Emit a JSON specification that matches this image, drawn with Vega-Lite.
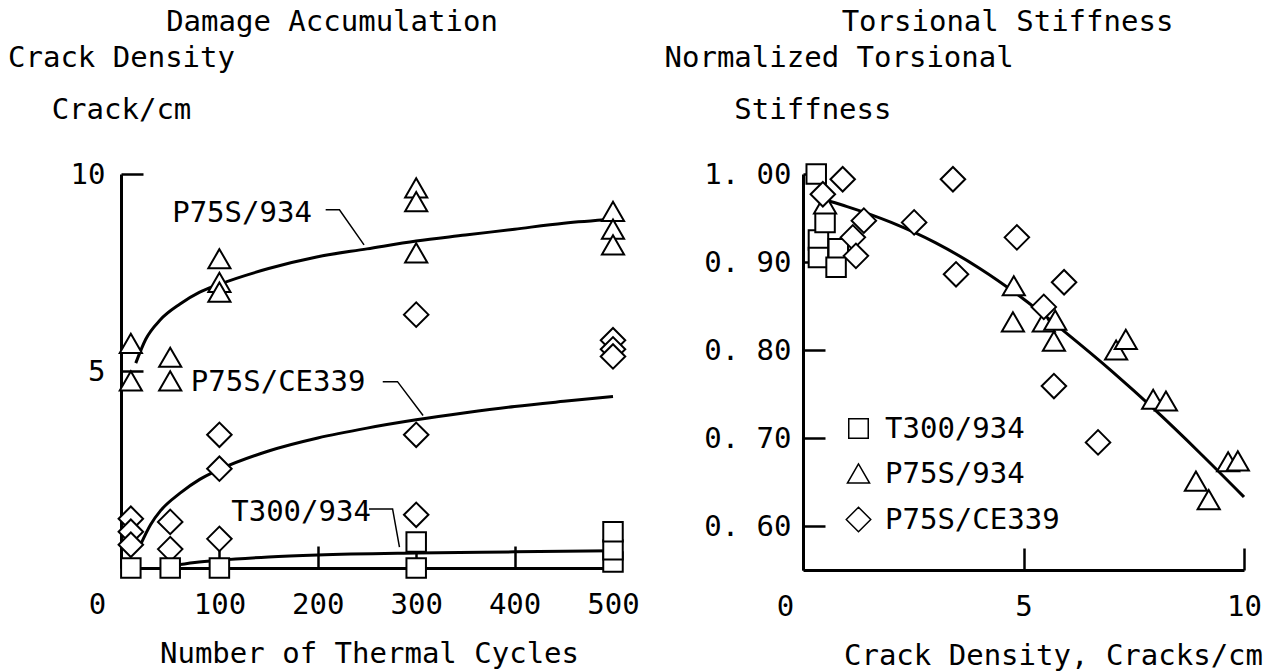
{
  "$schema": "https://vega.github.io/schema/vega-lite/v6.json",
  "background": "white",
  "padding": {"left": 7, "top": 8, "right": 5, "bottom": 5},
  "spacing": 24,
  "config": {
    "font": "DejaVu Sans Mono",
    "view": {"stroke": null},
    "axis": {
      "domainColor": "black", "domainWidth": 3, "tickColor": "black", "tickWidth": 2.5, "tickSize": -22,
      "labelFont": "DejaVu Sans Mono", "labelFontSize": 29, "labelColor": "black",
      "titleFont": "DejaVu Sans Mono", "titleFontSize": 29, "titleFontWeight": "normal", "titleColor": "black",
      "grid": false, "labelFlush": false, "labelBound": false, "labelOverlap": false, "labelLimit": 400, "titleLimit": 600
    },
    "title": {"font": "DejaVu Sans Mono", "fontSize": 29, "fontWeight": "normal", "color": "black", "anchor": "middle"}
  },
  "datasets": {
    "dmgPoints": [
      {"series": "P75S/934", "cycles": 10, "density": 5.7},
      {"series": "P75S/934", "cycles": 10, "density": 4.75},
      {"series": "P75S/934", "cycles": 50, "density": 5.35},
      {"series": "P75S/934", "cycles": 50, "density": 4.75},
      {"series": "P75S/934", "cycles": 100, "density": 7.85},
      {"series": "P75S/934", "cycles": 100, "density": 7.25},
      {"series": "P75S/934", "cycles": 100, "density": 7.0},
      {"series": "P75S/934", "cycles": 300, "density": 9.65},
      {"series": "P75S/934", "cycles": 300, "density": 9.3},
      {"series": "P75S/934", "cycles": 300, "density": 8.0},
      {"series": "P75S/934", "cycles": 500, "density": 9.05},
      {"series": "P75S/934", "cycles": 500, "density": 8.6},
      {"series": "P75S/934", "cycles": 500, "density": 8.2},
      {"series": "P75S/CE339", "cycles": 10, "density": 1.25},
      {"series": "P75S/CE339", "cycles": 10, "density": 0.92},
      {"series": "P75S/CE339", "cycles": 10, "density": 0.59},
      {"series": "P75S/CE339", "cycles": 50, "density": 1.17},
      {"series": "P75S/CE339", "cycles": 50, "density": 0.48},
      {"series": "P75S/CE339", "cycles": 100, "density": 3.38},
      {"series": "P75S/CE339", "cycles": 100, "density": 2.52},
      {"series": "P75S/CE339", "cycles": 100, "density": 0.74},
      {"series": "P75S/CE339", "cycles": 300, "density": 6.43},
      {"series": "P75S/CE339", "cycles": 300, "density": 3.38},
      {"series": "P75S/CE339", "cycles": 300, "density": 1.35},
      {"series": "P75S/CE339", "cycles": 500, "density": 5.78},
      {"series": "P75S/CE339", "cycles": 500, "density": 5.55},
      {"series": "P75S/CE339", "cycles": 500, "density": 5.37},
      {"series": "T300/934", "cycles": 10, "density": 0},
      {"series": "T300/934", "cycles": 50, "density": 0},
      {"series": "T300/934", "cycles": 100, "density": 0},
      {"series": "T300/934", "cycles": 300, "density": 0},
      {"series": "T300/934", "cycles": 300, "density": 0.66},
      {"series": "T300/934", "cycles": 500, "density": 0.15},
      {"series": "T300/934", "cycles": 500, "density": 0.46},
      {"series": "T300/934", "cycles": 500, "density": 0.92}
    ],
    "dmgCurves": [
      {"series": "P75S/934", "cycles": 15, "density": 5.2},
      {"series": "P75S/934", "cycles": 25, "density": 5.8},
      {"series": "P75S/934", "cycles": 40, "density": 6.3},
      {"series": "P75S/934", "cycles": 60, "density": 6.7},
      {"series": "P75S/934", "cycles": 80, "density": 7.0},
      {"series": "P75S/934", "cycles": 100, "density": 7.2},
      {"series": "P75S/934", "cycles": 150, "density": 7.6},
      {"series": "P75S/934", "cycles": 200, "density": 7.9},
      {"series": "P75S/934", "cycles": 250, "density": 8.1},
      {"series": "P75S/934", "cycles": 300, "density": 8.3},
      {"series": "P75S/934", "cycles": 350, "density": 8.45},
      {"series": "P75S/934", "cycles": 400, "density": 8.6},
      {"series": "P75S/934", "cycles": 450, "density": 8.75},
      {"series": "P75S/934", "cycles": 500, "density": 8.85},
      {"series": "P75S/CE339", "cycles": 20, "density": 0.6},
      {"series": "P75S/CE339", "cycles": 30, "density": 1.1},
      {"series": "P75S/CE339", "cycles": 40, "density": 1.45},
      {"series": "P75S/CE339", "cycles": 60, "density": 1.9},
      {"series": "P75S/CE339", "cycles": 80, "density": 2.25},
      {"series": "P75S/CE339", "cycles": 100, "density": 2.5},
      {"series": "P75S/CE339", "cycles": 150, "density": 2.97},
      {"series": "P75S/CE339", "cycles": 200, "density": 3.3},
      {"series": "P75S/CE339", "cycles": 250, "density": 3.55},
      {"series": "P75S/CE339", "cycles": 300, "density": 3.76},
      {"series": "P75S/CE339", "cycles": 350, "density": 3.94},
      {"series": "P75S/CE339", "cycles": 400, "density": 4.1},
      {"series": "P75S/CE339", "cycles": 450, "density": 4.23},
      {"series": "P75S/CE339", "cycles": 500, "density": 4.35},
      {"series": "T300/934", "cycles": 50, "density": 0.05},
      {"series": "T300/934", "cycles": 75, "density": 0.14},
      {"series": "T300/934", "cycles": 100, "density": 0.2},
      {"series": "T300/934", "cycles": 150, "density": 0.28},
      {"series": "T300/934", "cycles": 200, "density": 0.33},
      {"series": "T300/934", "cycles": 300, "density": 0.38},
      {"series": "T300/934", "cycles": 400, "density": 0.41},
      {"series": "T300/934", "cycles": 500, "density": 0.44}
    ],
    "dmgLeaders": [
      {"label": "P75S/934", "step": 1, "cycles": 208, "density": 9.09},
      {"label": "P75S/934", "step": 2, "cycles": 222, "density": 9.09},
      {"label": "P75S/934", "step": 3, "cycles": 247, "density": 8.2},
      {"label": "P75S/CE339", "step": 1, "cycles": 266, "density": 4.73},
      {"label": "P75S/CE339", "step": 2, "cycles": 281, "density": 4.73},
      {"label": "P75S/CE339", "step": 3, "cycles": 307, "density": 3.87},
      {"label": "T300/934", "step": 1, "cycles": 252, "density": 1.5},
      {"label": "T300/934", "step": 2, "cycles": 276, "density": 1.5},
      {"label": "T300/934", "step": 3, "cycles": 283, "density": 0.53}
    ],
    "dmgLabels": [
      {"label": "P75S/934", "cycles": 52, "density": 9.0},
      {"label": "P75S/CE339", "cycles": 71, "density": 4.73},
      {"label": "T300/934", "cycles": 112, "density": 1.42}
    ],
    "stiffPoints": [
      {"series": "T300/934", "crack": 0.3, "stiffness": 1.0},
      {"series": "T300/934", "crack": 0.35, "stiffness": 0.925},
      {"series": "T300/934", "crack": 0.35, "stiffness": 0.905},
      {"series": "T300/934", "crack": 0.8, "stiffness": 0.915},
      {"series": "T300/934", "crack": 0.5, "stiffness": 0.945},
      {"series": "T300/934", "crack": 0.75, "stiffness": 0.894},
      {"series": "P75S/934", "crack": 0.5, "stiffness": 0.966},
      {"series": "P75S/934", "crack": 4.78, "stiffness": 0.873},
      {"series": "P75S/934", "crack": 4.76, "stiffness": 0.832},
      {"series": "P75S/934", "crack": 5.46, "stiffness": 0.832},
      {"series": "P75S/934", "crack": 5.72, "stiffness": 0.834},
      {"series": "P75S/934", "crack": 5.69, "stiffness": 0.81},
      {"series": "P75S/934", "crack": 7.1, "stiffness": 0.8},
      {"series": "P75S/934", "crack": 7.32, "stiffness": 0.812},
      {"series": "P75S/934", "crack": 7.94, "stiffness": 0.744},
      {"series": "P75S/934", "crack": 8.23, "stiffness": 0.742},
      {"series": "P75S/934", "crack": 8.91, "stiffness": 0.651},
      {"series": "P75S/934", "crack": 9.2, "stiffness": 0.63},
      {"series": "P75S/934", "crack": 9.64, "stiffness": 0.673},
      {"series": "P75S/934", "crack": 9.86, "stiffness": 0.674},
      {"series": "P75S/CE339", "crack": 0.9, "stiffness": 0.994},
      {"series": "P75S/CE339", "crack": 0.45, "stiffness": 0.977},
      {"series": "P75S/CE339", "crack": 1.38, "stiffness": 0.947},
      {"series": "P75S/CE339", "crack": 1.13, "stiffness": 0.928},
      {"series": "P75S/CE339", "crack": 1.2, "stiffness": 0.907},
      {"series": "P75S/CE339", "crack": 3.4, "stiffness": 0.994},
      {"series": "P75S/CE339", "crack": 2.52, "stiffness": 0.945},
      {"series": "P75S/CE339", "crack": 3.47, "stiffness": 0.886},
      {"series": "P75S/CE339", "crack": 4.85, "stiffness": 0.928},
      {"series": "P75S/CE339", "crack": 5.92, "stiffness": 0.877},
      {"series": "P75S/CE339", "crack": 5.46, "stiffness": 0.849},
      {"series": "P75S/CE339", "crack": 5.69, "stiffness": 0.759},
      {"series": "P75S/CE339", "crack": 6.69, "stiffness": 0.695}
    ],
    "stiffCurve": [
      {"crack": 0.6, "stiffness": 0.969},
      {"crack": 1.0, "stiffness": 0.963},
      {"crack": 2.0, "stiffness": 0.945},
      {"crack": 3.0, "stiffness": 0.922},
      {"crack": 4.0, "stiffness": 0.893},
      {"crack": 5.0, "stiffness": 0.858},
      {"crack": 6.0, "stiffness": 0.818},
      {"crack": 7.0, "stiffness": 0.776},
      {"crack": 8.0, "stiffness": 0.731},
      {"crack": 9.0, "stiffness": 0.683},
      {"crack": 10.0, "stiffness": 0.633}
    ]
  },
  "resolve": {
    "scale": {"x": "independent", "y": "independent", "shape": "independent", "size": "independent"},
    "legend": {"shape": "independent", "size": "independent"}
  },
  "hconcat": [
    {
      "width": 492,
      "height": 394,
      "title": {"text": "Damage Accumulation", "dx": -35, "offset": 6},
      "encoding": {
        "x": {
          "field": "cycles", "type": "quantitative",
          "scale": {"domain": [0, 500], "nice": false},
          "axis": {
            "title": "Number of Thermal Cycles", "values": [0, 100, 200, 300, 400, 500],
            "labelPadding": 44,
            "labelOffset": {"condition": {"test": "datum.value == 0", "value": -24}, "value": 0},
            "titleX": 248, "titleY": 94, "titleBaseline": "alphabetic"
          }
        },
        "y": {
          "field": "density", "type": "quantitative",
          "scale": {"domain": [0, 10], "nice": false},
          "axis": {
            "title": ["Crack Density", "Crack/cm"], "values": [5, 10],
            "labelPadding": 38,
            "titleAngle": 0, "titleAlign": "center", "titleX": 0, "titleY": -108,
            "titleBaseline": "alphabetic", "titleLineHeight": 52
          }
        }
      },
      "layer": [
        {
          "data": {"name": "dmgCurves"},
          "mark": {"type": "line", "color": "black", "strokeWidth": 3, "interpolate": "monotone"},
          "encoding": {"detail": {"field": "series"}}
        },
        {
          "data": {"name": "dmgLeaders"},
          "mark": {"type": "line", "color": "black", "strokeWidth": 1.5},
          "encoding": {"detail": {"field": "label"}, "order": {"field": "step", "type": "quantitative"}}
        },
        {
          "data": {"name": "dmgPoints"},
          "mark": {"type": "point", "filled": true, "fill": "white", "stroke": "black", "strokeWidth": 2, "opacity": 1},
          "encoding": {
            "shape": {"field": "series", "type": "nominal", "scale": {"domain": ["T300/934", "P75S/934", "P75S/CE339"], "range": ["square", "triangle-up", "diamond"]}, "legend": null},
            "size": {"field": "series", "type": "nominal", "scale": {"domain": ["T300/934", "P75S/934", "P75S/CE339"], "range": [380, 600, 760]}, "legend": null}
          }
        },
        {
          "data": {"name": "dmgLabels"},
          "mark": {"type": "text", "align": "left", "baseline": "middle", "fontSize": 29, "font": "DejaVu Sans Mono", "color": "black"},
          "encoding": {"text": {"field": "label"}}
        }
      ]
    },
    {
      "width": 441,
      "height": 396,
      "title": {"text": "Torsional Stiffness", "dx": -16, "offset": 6},
      "encoding": {
        "x": {
          "field": "crack", "type": "quantitative",
          "scale": {"domain": [0, 10], "nice": false},
          "axis": {
            "title": "Crack Density, Cracks/cm", "values": [0, 5, 10],
            "labelPadding": 44,
            "labelOffset": {"condition": {"test": "datum.value == 0", "value": -18}, "value": 0},
            "titleX": 250, "titleY": 94, "titleBaseline": "alphabetic"
          }
        },
        "y": {
          "field": "stiffness", "type": "quantitative",
          "scale": {"domain": [0.55, 1.0], "nice": false, "zero": false},
          "axis": {
            "title": ["Normalized Torsional", "\u200b\u00a0\u00a0\u00a0\u00a0Stiffness"],
            "values": [0.6, 0.7, 0.8, 0.9, 1.0],
            "labelExpr": "replace(format(datum.value, '.2f'), '.', '. ')",
            "labelPadding": 34,
            "titleAngle": 0, "titleAlign": "left", "titleX": -139, "titleY": -108,
            "titleBaseline": "alphabetic", "titleLineHeight": 52
          }
        }
      },
      "layer": [
        {
          "data": {"name": "stiffCurve"},
          "mark": {"type": "line", "color": "black", "strokeWidth": 3, "interpolate": "monotone"},
          "encoding": {}
        },
        {
          "data": {"name": "stiffPoints"},
          "mark": {"type": "point", "filled": true, "fill": "white", "stroke": "black", "strokeWidth": 2, "opacity": 1},
          "encoding": {
            "shape": {
              "field": "series", "type": "nominal",
              "scale": {"domain": ["T300/934", "P75S/934", "P75S/CE339"], "range": ["square", "triangle-up", "diamond"]},
              "legend": {"orient": "none", "legendX": 41, "legendY": 240, "title": null, "padding": 0, "labelFont": "DejaVu Sans Mono", "labelFontSize": 29, "labelColor": "black", "labelOffset": 12, "labelLimit": 400, "rowPadding": 15,
                "encode": {"symbols": {"update": {"fill": {"value": "white"}, "stroke": {"value": "black"}, "strokeWidth": {"value": 2}, "opacity": {"value": 1}}}}}
            },
            "size": {
              "field": "series", "type": "nominal",
              "scale": {"domain": ["T300/934", "P75S/934", "P75S/CE339"], "range": [380, 600, 760]},
              "legend": {"orient": "none", "legendX": 41, "legendY": 240, "title": null, "padding": 0, "labelFont": "DejaVu Sans Mono", "labelFontSize": 29, "labelColor": "black", "labelOffset": 12, "labelLimit": 400, "rowPadding": 15,
                "encode": {"symbols": {"update": {"fill": {"value": "white"}, "stroke": {"value": "black"}, "strokeWidth": {"value": 2}, "opacity": {"value": 1}}}}}
            }
          }
        }
      ]
    }
  ]
}
